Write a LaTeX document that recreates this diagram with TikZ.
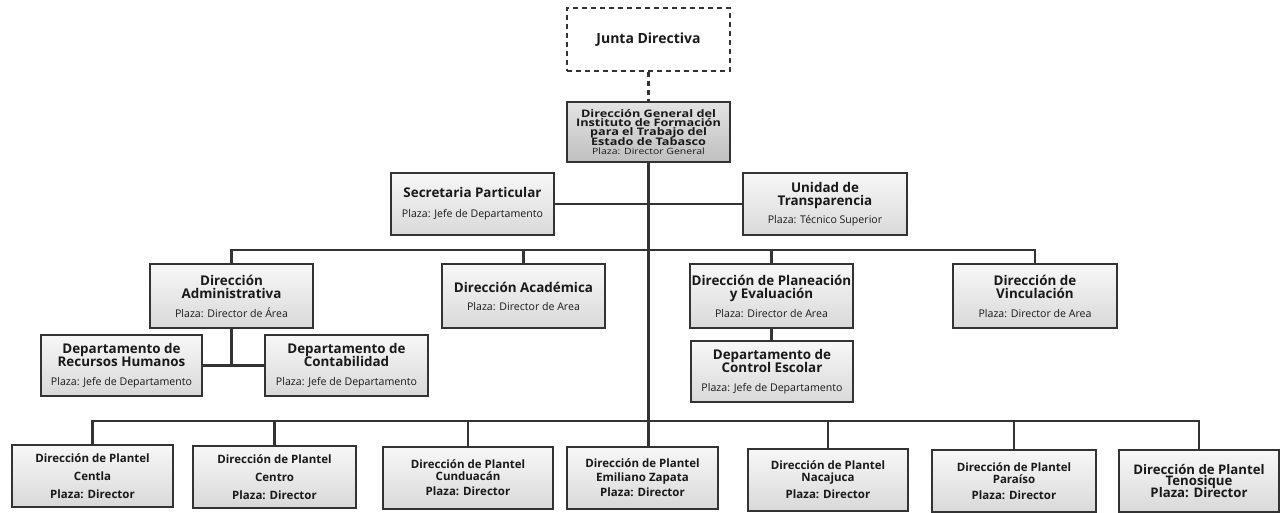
\documentclass[tikz,border=0pt]{standalone}
\usepackage{fontspec}
\setmainfont{Open Sans}
\newfontfamily\widefam[FakeStretch=1.22]{Open Sans}
\newcommand\ttlf{\fontsize{13.4}{13}\selectfont\bfseries}
\newcommand\plzf{\fontsize{10.6}{11}\selectfont\mdseries}
\newcommand\plf{\fontsize{11.5}{12}\selectfont\bfseries}
\newcommand\dgf{\widefam\fontsize{10.4}{9.2}\selectfont\bfseries}
\newcommand\tenf{\fontsize{13.2}{11.5}\selectfont\bfseries}
\newcommand\jdf{\fontsize{14}{14}\selectfont\bfseries}
\begin{document}
\lineskiplimit=-20pt
\lineskip=0pt
\begin{tikzpicture}[x=1pt,y=-1pt,
  lin/.style={draw=black!80, line width=2.5pt},
  box/.style={draw=black!80, line width=2pt, top color=gray!6, bottom color=gray!30,
    align=center, inner sep=1pt, text=black!90},
  tbox/.style={box, font=\ttlf},
  pbox/.style={box, font=\plf, minimum height=62pt},
  dgbox/.style={box, top color=gray!22, bottom color=gray!50, font=\dgf},
  jbox/.style={draw=black!80, line width=2pt, dash pattern=on 5pt off 4pt, align=center,
    minimum width=163pt, minimum height=63pt, text=black!90, font=\jdf},
]
\useasboundingbox (0,0) rectangle (1281,513);
\fill[white] (0,0) rectangle (1281,513);

% top
\node[jbox] (jd) at (648.5,39.5) {Junta Directiva};
\node[dgbox, minimum width=163pt, minimum height=60pt] (dg) at (648.5,132)
  {Dirección General del\\Instituto de Formación\\para el Trabajo del\\Estado de Tabasco\\
   {\fontsize{8.6}{9.2}\selectfont\mdseries Plaza: Director General}};

\node[tbox, minimum width=163pt, minimum height=62pt] (sp) at (472.5,204)
  {Secretaria Particular\\[7pt]{\plzf Plaza: Jefe de Departamento}};
\node[tbox, minimum width=164pt, minimum height=62pt] (tu) at (825,204)
  {Unidad de\\Transparencia\\[5pt]{\plzf Plaza: Técnico Superior}};

% level 2
\node[tbox, minimum width=163pt, minimum height=64pt] (da) at (231.5,296)
  {Dirección\\Administrativa\\[6pt]{\plzf Plaza: Director de Área}};
\node[tbox, minimum width=163pt, minimum height=64pt] (dac) at (523.5,296)
  {Dirección Académica\\[5pt]{\plzf Plaza: Director de Area}};
\node[tbox, minimum width=163pt, minimum height=64pt] (dp) at (771.5,296)
  {Dirección de Planeación\\y Evaluación\\[6pt]{\plzf Plaza: Director de Area}};
\node[tbox, minimum width=164pt, minimum height=64pt] (dv) at (1035,296)
  {Dirección de\\Vinculación\\[6pt]{\plzf Plaza: Director de Area}};

% level 3
\node[tbox, minimum width=161pt, minimum height=61pt] (rh) at (121.5,365.5)
  {Departamento de\\Recursos Humanos\\[6pt]{\plzf Plaza: Jefe de Departamento}};
\node[tbox, minimum width=163pt, minimum height=61pt] (cb) at (346.5,365.5)
  {Departamento de\\Contabilidad\\[6pt]{\plzf Plaza: Jefe de Departamento}};
\node[tbox, minimum width=162pt, minimum height=61pt] (ce) at (772,371.5)
  {Departamento de\\Control Escolar\\[6pt]{\plzf Plaza: Jefe de Departamento}};

% planteles
\node[pbox, minimum width=161pt] (p1) at (92.5,476)
  {Dirección de Plantel\\[6pt]Centla\\[6pt]Plaza: Director};
\node[pbox, minimum width=163pt] (p2) at (274.5,477)
  {Dirección de Plantel\\[6pt]Centro\\[6pt]Plaza: Director};
\node[pbox, minimum width=170pt] (p3) at (468,478)
  {Dirección de Plantel\\Cunduacán\\[3pt]Plaza: Director};
\node[pbox, minimum width=151pt] (p4) at (642.5,478)
  {Dirección de Plantel\\[2pt]Emiliano Zapata\\[3pt]Plaza: Director};
\node[pbox, minimum width=160pt] (p5) at (828,480)
  {Dirección de Plantel\\Nacajuca\\[5pt]Plaza: Director};
\node[pbox, minimum width=164pt] (p6) at (1014,481)
  {Dirección de Plantel\\Paraíso\\[4pt]Plaza: Director};
\node[pbox, minimum width=160pt, font=\tenf] (p7) at (1199,481)
  {Dirección de Plantel\\Tenosique\\Plaza: Director};

% connectors
\coordinate (b2) at (648.5,250);
\coordinate (b3) at (648.5,421);
\draw[lin, dash pattern=on 5pt off 4pt] (jd.south) -- (dg.north);
\draw[lin] (dg.south) -- (dg.south |- p4.north);
\draw[lin] (sp.east) -- (tu.west);
\draw[lin] (da.north) -- (da.north |- b2) -| (dv.north);
\draw[lin] (dac.north) -- (dac.north |- b2);
\draw[lin] (dp.north) -- (dp.north |- b2);
\draw[lin] (da.south) -- (da.south |- rh.east);
\draw[lin] (rh.east) -- (cb.west);
\draw[lin] (dp.south) -- (dp.south |- ce.north);
\draw[lin] (p1.north) -- (p1.north |- b3) -| (p7.north);
\foreach \p in {p2,p3,p5,p6} \draw[lin] (\p.north) -- (\p.north |- b3);
\end{tikzpicture}
\end{document}
